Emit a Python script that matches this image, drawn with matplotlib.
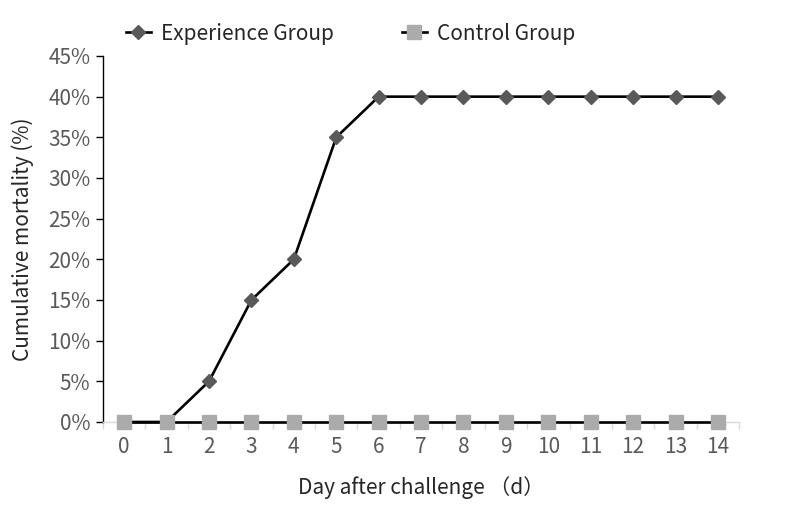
import matplotlib.pyplot as plt
import numpy as np

days = list(range(0, 15))
experience = [0, 0, 5, 15, 20, 35, 40, 40, 40, 40, 40, 40, 40, 40, 40]
control = [0] * 15
y_ticks = [0, 5, 10, 15, 20, 25, 30, 35, 40, 45]

plt.rcParams['font.family'] = ['Noto Sans CJK SC', 'DejaVu Sans']

fig = plt.figure(figsize=(7.88, 5.16), dpi=100)
ax = fig.add_axes([0.1307, 0.1822, 0.8073, 0.7093])

ax.plot(days, experience, color='black', lw=1.9, marker='D', ms=7.5,
        mfc='#595959', mec='#595959', label='Experience Group', zorder=3)
ax.plot(days, control, color='black', lw=1.9, marker='s', ms=9.5,
        mfc='#ababab', mec='#ababab', label='Control Group', zorder=4)

ax.set_xlim(-0.5, 14.5)
ax.set_ylim(0, 45)
ax.set_yticks(y_ticks)
ax.set_yticklabels([f'{v}%' for v in y_ticks])
ax.set_xticks(days)
ax.set_xticks(np.arange(-0.5, 15, 1), minor=True)

for s in ['top', 'right']:
    ax.spines[s].set_visible(False)
ax.spines['left'].set_color('black')
ax.spines['left'].set_linewidth(1.0)
ax.spines['bottom'].set_color('#d9d9d9')
ax.spines['bottom'].set_linewidth(1.0)

ax.tick_params(axis='y', which='major', length=5, width=1, color='black',
               labelsize=15, labelcolor='#595959', pad=4)
ax.tick_params(axis='x', which='major', length=0, labelsize=15,
               labelcolor='#595959', pad=10)
ax.tick_params(axis='x', which='minor', length=5, width=1, color='#d9d9d9')

ax.set_xlabel('Day after challenge （d）', fontsize=15, color='#262626', labelpad=13)
ax.set_ylabel('Cumulative mortality (%)', fontsize=15, color='#262626', labelpad=10)

ax.legend(loc='lower left', bbox_to_anchor=(0.018, 1.0), ncol=2, frameon=False,
          fontsize=15, handlelength=1.2, columnspacing=3.25, handletextpad=0.5,
          labelcolor='#262626', borderaxespad=0.15)

for line in ax.get_lines():
    line.set_clip_on(False)

plt.savefig('out.png', dpi=100)
